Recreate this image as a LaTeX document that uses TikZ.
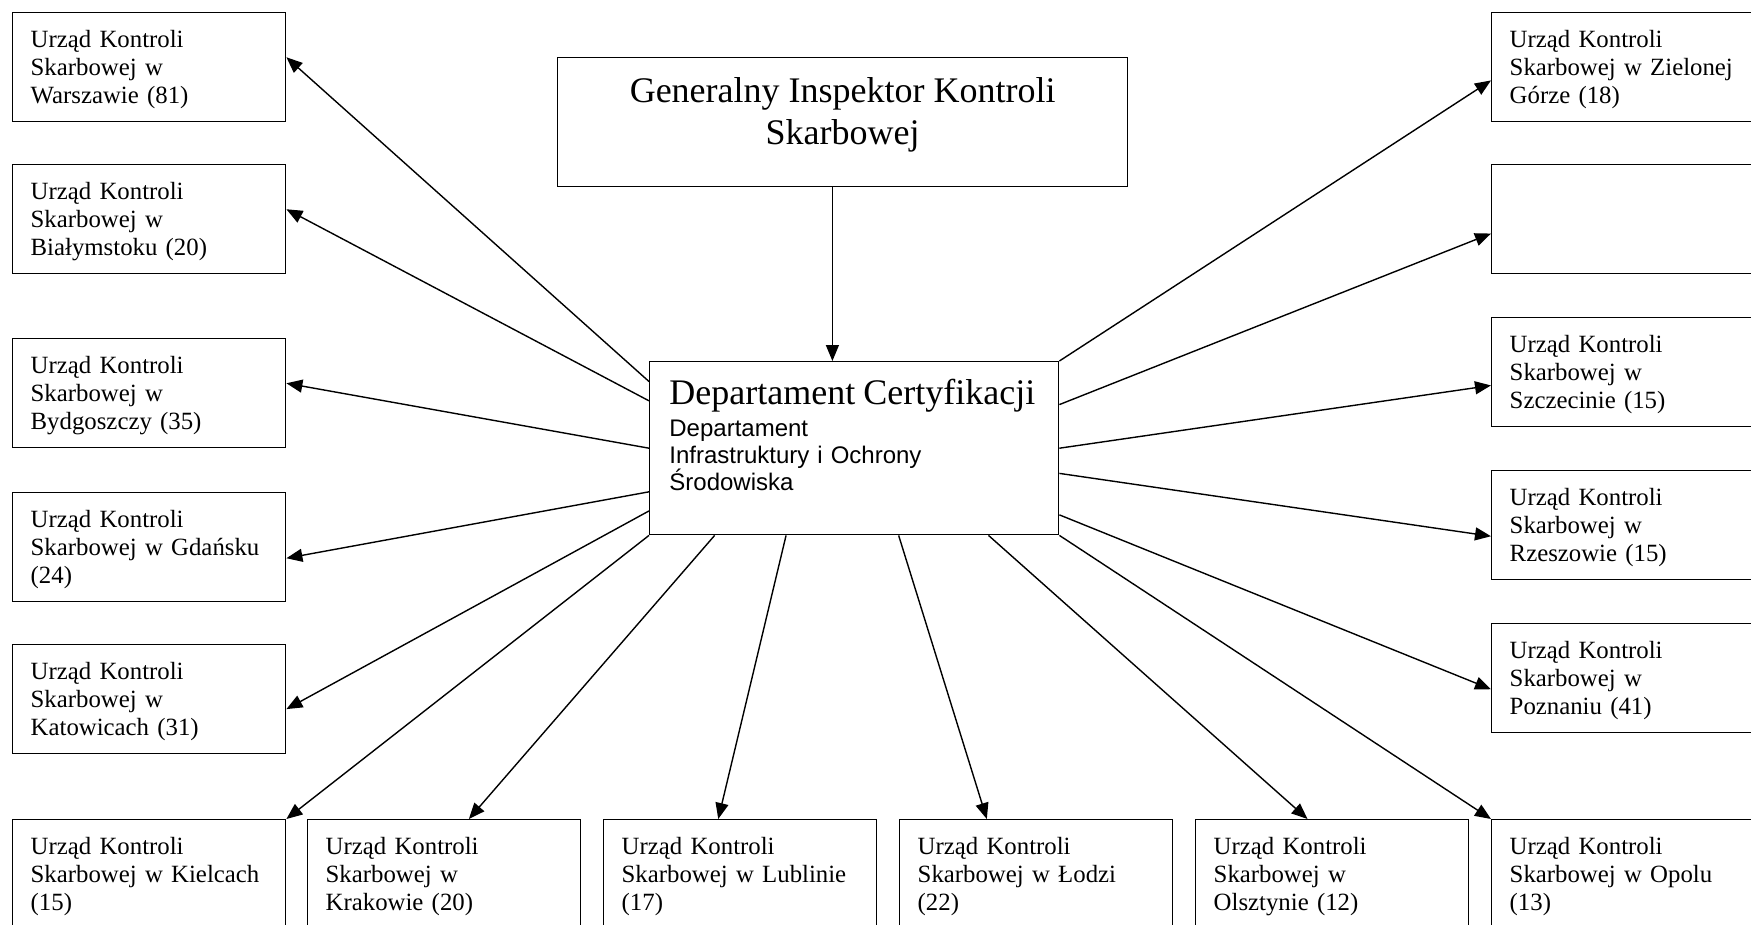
\documentclass[tikz,border=0pt]{standalone}
\usepackage{fontspec}
\setmainfont{Liberation Serif}
\setsansfont{Liberation Sans}
\usetikzlibrary{arrows.meta,calc}
\hfuzz=5pt

\tikzset{
  urzad/.style={draw, line width=0.7pt, anchor=north west, minimum width=136.5pt, minimum height=54.5pt,
    text width=118.5pt, inner xsep=9pt, inner ysep=0pt, align=left, font=\fontsize{12.4}{14.2}\selectfont,
    execute at begin node=\rule{0pt}{11pt}},
  arr/.style={-{Triangle[length=8pt,width=6.5pt]}, line width=0.7pt},
}

\begin{document}
\begin{tikzpicture}[x=0.5pt, y=-0.5pt]
\clip (0,0) rectangle (1751,925);

% glowne
\node[draw, line width=0.7pt, anchor=north west, minimum width=285pt, minimum height=64.5pt] (gen) at (557,57) {};
\node[anchor=north, align=center, inner sep=0pt, font=\fontsize{18}{21}\selectfont] (gentext)
  at ([shift={(0,20.5)}]gen.north) {Generalny Inspektor Kontroli\\Skarbowej};

\node[draw, line width=0.7pt, anchor=north west, minimum width=204.5pt, minimum height=86.5pt] (dep) at (649,361) {};
\node[anchor=north west, text width=195pt, align=left, inner sep=0pt, font=\sffamily\fontsize{12}{13.5}\selectfont] (deptext)
  at ([shift={(20,17.5)}]dep.north west)
  {{\rmfamily\fontsize{18}{20}\selectfont Departament Certyfikacji}\\[2.5pt]Departament\\Infrastruktury i Ochrony\\Środowiska};

% lewa kolumna
\node[urzad] (war) at (12,12)  {Urząd Kontroli\\Skarbowej w\\Warszawie (81)};
\node[urzad] (bia) at (12,164) {Urząd Kontroli\\Skarbowej w\\Białymstoku (20)};
\node[urzad] (byd) at (12,338) {Urząd Kontroli\\Skarbowej w\\Bydgoszczy (35)};
\node[urzad] (gda) at (12,492) {Urząd Kontroli\\Skarbowej~w~Gdańsku\\(24)};
\node[urzad] (kat) at (12,644) {Urząd Kontroli\\Skarbowej w\\Katowicach (31)};

% prawa kolumna
\node[urzad] (zgo) at (1491,12)  {Urząd Kontroli\\Skarbowej~w~Zielonej\\Górze (18)};
\node[urzad] (pus) at (1491,164) {};
\node[urzad] (szc) at (1491,317) {Urząd Kontroli\\Skarbowej w\\Szczecinie (15)};
\node[urzad] (rze) at (1491,470) {Urząd Kontroli\\Skarbowej w\\Rzeszowie (15)};
\node[urzad] (poz) at (1491,623) {Urząd Kontroli\\Skarbowej w\\Poznaniu (41)};

% dolny rzad
\node[urzad] (kie) at (12,819)   {Urząd Kontroli\\Skarbowej~w~Kielcach\\(15)};
\node[urzad] (kra) at (307,819)  {Urząd Kontroli\\Skarbowej w\\Krakowie (20)};
\node[urzad] (lub) at (603,819)  {Urząd Kontroli\\Skarbowej~w~Lublinie\\(17)};
\node[urzad] (lod) at (899,819)  {Urząd Kontroli\\Skarbowej~w~Łodzi\\(22)};
\node[urzad] (ols) at (1195,819) {Urząd Kontroli\\Skarbowej w\\Olsztynie (12)};
\node[urzad] (opo) at (1491,819) {Urząd Kontroli\\Skarbowej~w~Opolu\\(13)};

\draw[arr] ($(gen.south west)!.482!(gen.south east)$) coordinate (g) -- (g |- dep.north);

\draw[arr] (dep.162.2) -- ($(war.north east)!.41!(war.south east)$);
\draw[arr] (dep.167.7) -- ($(bia.north east)!.41!(bia.south east)$);
\draw[arr] (dep.180)   -- ($(byd.north east)!.41!(byd.south east)$);
\draw[arr] (dep.192.3) -- ($(gda.north east)!.6!(gda.south east)$);
\draw[arr] (dep.197.8) -- ($(kat.north east)!.59!(kat.south east)$);

\draw[arr] (dep.north east) -- ($(zgo.north west)!.62!(zgo.south west)$);
\draw[arr] (dep.12.3)  -- ($(pus.north west)!.63!(pus.south west)$);
\draw[arr] (dep.east)  -- ($(szc.north west)!.62!(szc.south west)$);
\draw[arr] (dep.353.7) -- ($(rze.north west)!.6!(rze.south west)$);
\draw[arr] (dep.342.2) -- ($(poz.north west)!.6!(poz.south west)$);

\draw[arr] (dep.south west) -- (kie.north east);
\draw[arr] (dep.212.4) -- ($(kra.north west)!.59!(kra.north east)$);
\draw[arr] (dep.232)   -- ($(lub.north west)!.42!(lub.north east)$);
\draw[arr] (dep.297.7) -- ($(lod.north west)!.32!(lod.north east)$);
\draw[arr] (dep.327.8) -- ($(ols.north west)!.41!(ols.north east)$);
\draw[arr] (dep.south east) -- (opo.north west);

\end{tikzpicture}
\end{document}
